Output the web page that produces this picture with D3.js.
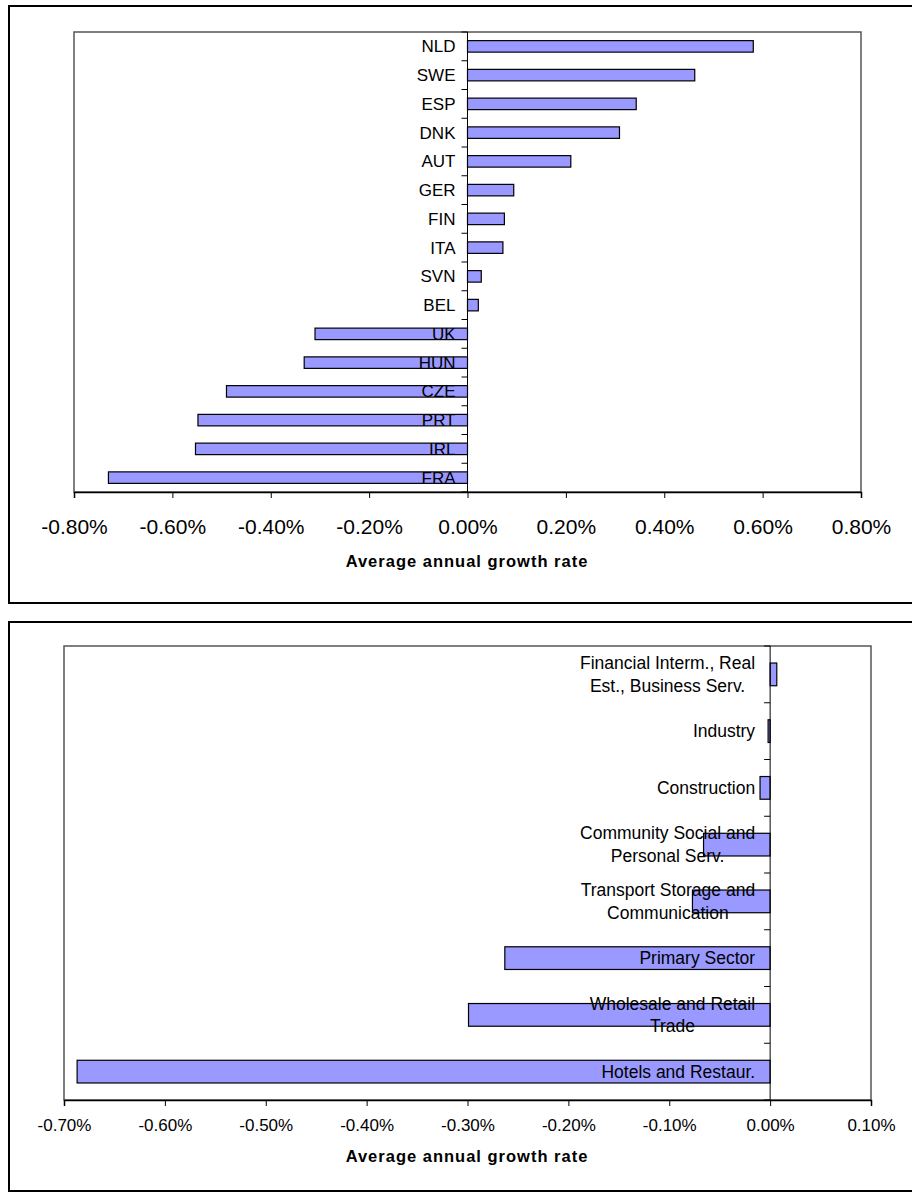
<!DOCTYPE html>
<html>
<head>
<meta charset="utf-8">
<script src="https://cdn.jsdelivr.net/npm/d3@7"></script>
<style>
  html, body { margin: 0; padding: 0; background: #fff; }
  svg { display: block; }
  text { font-family: "Liberation Sans", Arial, sans-serif; fill: #000; }
</style>
</head>
<body>
<svg id="chart" width="912" height="1195"></svg>
<script>
// ---------- Data: top chart (countries) ----------
const countries = ["NLD","SWE","ESP","DNK","AUT","GER","FIN","ITA","SVN","BEL","UK","HUN","CZE","PRT","IRL","FRA"];
const countryValues = [0.581,0.462,0.343,0.309,0.210,0.094,0.075,0.072,0.028,0.022,-0.310,-0.332,-0.490,-0.548,-0.553,-0.730];
const topTicks = [-0.8,-0.6,-0.4,-0.2,0,0.2,0.4,0.6,0.8];

// ---------- Data: bottom chart (sectors) ----------
const sectors = [
  ["Financial Interm., Real","Est., Business Serv."],
  ["Industry"],
  ["Construction"],
  ["Community Social and","Personal Serv."],
  ["Transport Storage and","Communication"],
  ["Primary Sector"],
  ["Wholesale and Retail","Trade"],
  ["Hotels and Restaur."]
];
const sectorValues = [0.0066,-0.002,-0.010,-0.066,-0.077,-0.263,-0.299,-0.687];
const bottomTicks = [-0.7,-0.6,-0.5,-0.4,-0.3,-0.2,-0.1,0,0.1];

const axisTitle = "Average annual growth rate";
const barFill = "#9999FF";
const fmt = v => d3.format(".2f")(v).replace("\u2212", "-") + "%";

const svg = d3.select("#chart");

// outer panel frames
svg.append("rect").attr("x", 9).attr("y", 6).attr("width", 940).attr("height", 597)
  .attr("fill", "none").attr("stroke", "#000").attr("stroke-width", 2);
svg.append("rect").attr("x", 9).attr("y", 622).attr("width", 940).attr("height", 569)
  .attr("fill", "none").attr("stroke", "#000").attr("stroke-width", 2);

function drawChart(cfg) {
  const g = svg.append("g");
  const x = d3.scaleLinear().domain(cfg.domain).range([cfg.left, cfg.right]);
  const idx = d3.range(cfg.values.length);
  const y = d3.scaleBand().domain(idx).range([cfg.top, cfg.bottom])
    .paddingInner(0.6).paddingOuter(0.3);
  const x0 = x(0);

  // plot area border
  g.append("rect").attr("x", cfg.left).attr("y", cfg.top)
    .attr("width", cfg.right - cfg.left).attr("height", cfg.bottom - cfg.top)
    .attr("fill", "#fff").attr("stroke", "#555").attr("stroke-width", 1.5);

  // bars
  g.selectAll("rect.bar").data(idx).enter().append("rect").attr("class", "bar")
    .attr("x", i => Math.min(x(cfg.values[i]), x0))
    .attr("y", i => y(i))
    .attr("width", i => Math.abs(x(cfg.values[i]) - x0))
    .attr("height", y.bandwidth())
    .attr("fill", barFill).attr("stroke", "#000").attr("stroke-width", 1.2);

  // zero (category) axis line
  g.append("line").attr("x1", x0).attr("x2", x0).attr("y1", cfg.top).attr("y2", cfg.bottom)
    .attr("stroke", "#000").attr("stroke-width", 1);

  // category ticks at band boundaries
  const bounds = d3.range(cfg.values.length + 1).map(i => cfg.top + i * y.step());
  g.selectAll("line.ctick").data(bounds).enter().append("line")
    .attr("x1", x0 - 6).attr("x2", x0).attr("y1", d => d).attr("y2", d => d)
    .attr("stroke", "#000").attr("stroke-width", 1);

  // bottom value axis
  const ax = g.append("g").attr("transform", `translate(0,${cfg.bottom})`)
    .call(d3.axisBottom(x).tickValues(cfg.ticks).tickFormat(fmt).tickSize(6).tickPadding(0));
  ax.select(".domain").attr("stroke", "#000").attr("stroke-width", 1.5);
  ax.selectAll(".tick line").attr("stroke", "#000");
  ax.selectAll(".tick text").attr("dy", null).attr("y", cfg.tickBaseline - cfg.bottom)
    .style("font-family", '"Liberation Sans", Arial, sans-serif')
    .style("font-size", cfg.tickFont + "px").attr("fill", "#000");

  // category labels (on top of bars)
  const lh = cfg.labelFont * 1.3;
  idx.forEach(i => {
    const lines = cfg.labels[i];
    const cy = y(i) + y.bandwidth() / 2;
    const t = g.append("text").style("font-size", cfg.labelFont + "px");
    lines.forEach((ln, k) => {
      t.append("tspan").attr("y", cy + (k - (lines.length - 1) / 2) * lh).attr("dy", "0.35em").text(ln);
    });
    // measure widest line, right-align the block, center lines within it
    const widths = t.selectAll("tspan").nodes().map(n => n.getComputedTextLength());
    const maxW = d3.max(widths);
    const right = x0 - cfg.labelGap;
    t.attr("text-anchor", "middle");
    t.selectAll("tspan").attr("x", right - maxW / 2);
  });

  // axis title
  g.append("text").attr("x", cfg.titleX).attr("y", cfg.titleBaseline)
    .attr("text-anchor", "middle").style("font-size", "16.5px").style("font-weight", "bold")
    .style("letter-spacing", "1px").text(axisTitle);
}

drawChart({
  values: countryValues, labels: countries.map(c => [c]),
  domain: [-0.8, 0.8], ticks: topTicks,
  left: 74, right: 861, top: 32, bottom: 492,
  tickBaseline: 534, tickFont: 21,
  labelFont: 17, labelGap: 12,
  titleX: 467, titleBaseline: 567
});

drawChart({
  values: sectorValues, labels: sectors,
  domain: [-0.7, 0.1], ticks: bottomTicks,
  left: 64, right: 871, top: 646, bottom: 1100,
  tickBaseline: 1131, tickFont: 17,
  labelFont: 17.5, labelGap: 15,
  titleX: 467, titleBaseline: 1162
});
</script>
</body>
</html>
